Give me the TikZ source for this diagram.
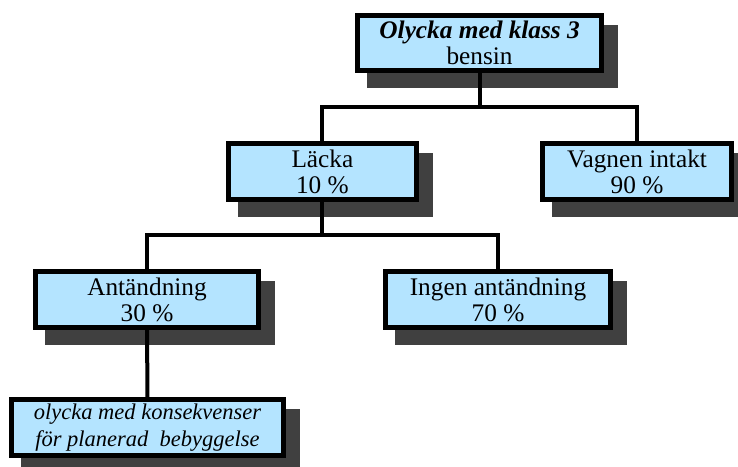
\documentclass[tikz,border=0pt]{standalone}
\usepackage{fontspec}
\setmainfont{Liberation Serif}
\usetikzlibrary{backgrounds}
\definecolor{boxblue}{RGB}{180,228,255}
\definecolor{shadowgray}{RGB}{64,64,64}
\begin{document}
\begin{tikzpicture}[box/.style={draw,line width=0.125cm,fill=boxblue,inner sep=0pt,
      minimum height=1.4cm,align=center,font=\fontsize{18}{18.5}\selectfont},
    link/.style={line width=0.1cm}]
  \useasboundingbox (0,0) rectangle (18.45,11.65);
  \node[box,minimum width=6.1cm,minimum height=1.375cm] (O) at (11.99,10.575) {\textbf{\textit{Olycka med klass 3}}\\bensin};
  \node[box,minimum width=4.7cm] (L) at (8.06,7.3625) {Läcka\\10 \%};
  \node[box,minimum width=4.725cm] (V) at (15.925,7.3625) {Vagnen intakt\\90 \%};
  \node[box,minimum width=5.575cm] (A) at (3.675,4.1625) {Antändning\\30 \%};
  \node[box,minimum width=5.625cm] (I) at (12.45,4.1625) {Ingen antändning\\70 \%};
  \node[box,minimum width=6.8cm,font=\fontsize{16}{19}\selectfont\itshape] (K) at (3.6875,0.9625) {olycka med konsekvenser\\för planerad\ \ bebyggelse};
  \coordinate (j1) at (11.99,8.975);
  \coordinate (j2) at (8.06,5.775);
  \begin{scope}[on background layer]
    % shadows
    \foreach \n in {O,L,V,A,I,K}
      \fill[shadowgray] ([shift={(0.3,-0.375)}]\n.south west) rectangle ([shift={(0.35,-0.3)}]\n.north east);
    \draw[link] (O) -- (j1);
    \draw[link] (L.north) |- (j1) -| (V.north);
    \draw[link] (L) -- (j2);
    \draw[link] (A.north) |- (j2) -| (I.north);
    \draw[link] (A) -- (K);
  \end{scope}
\end{tikzpicture}
\end{document}
